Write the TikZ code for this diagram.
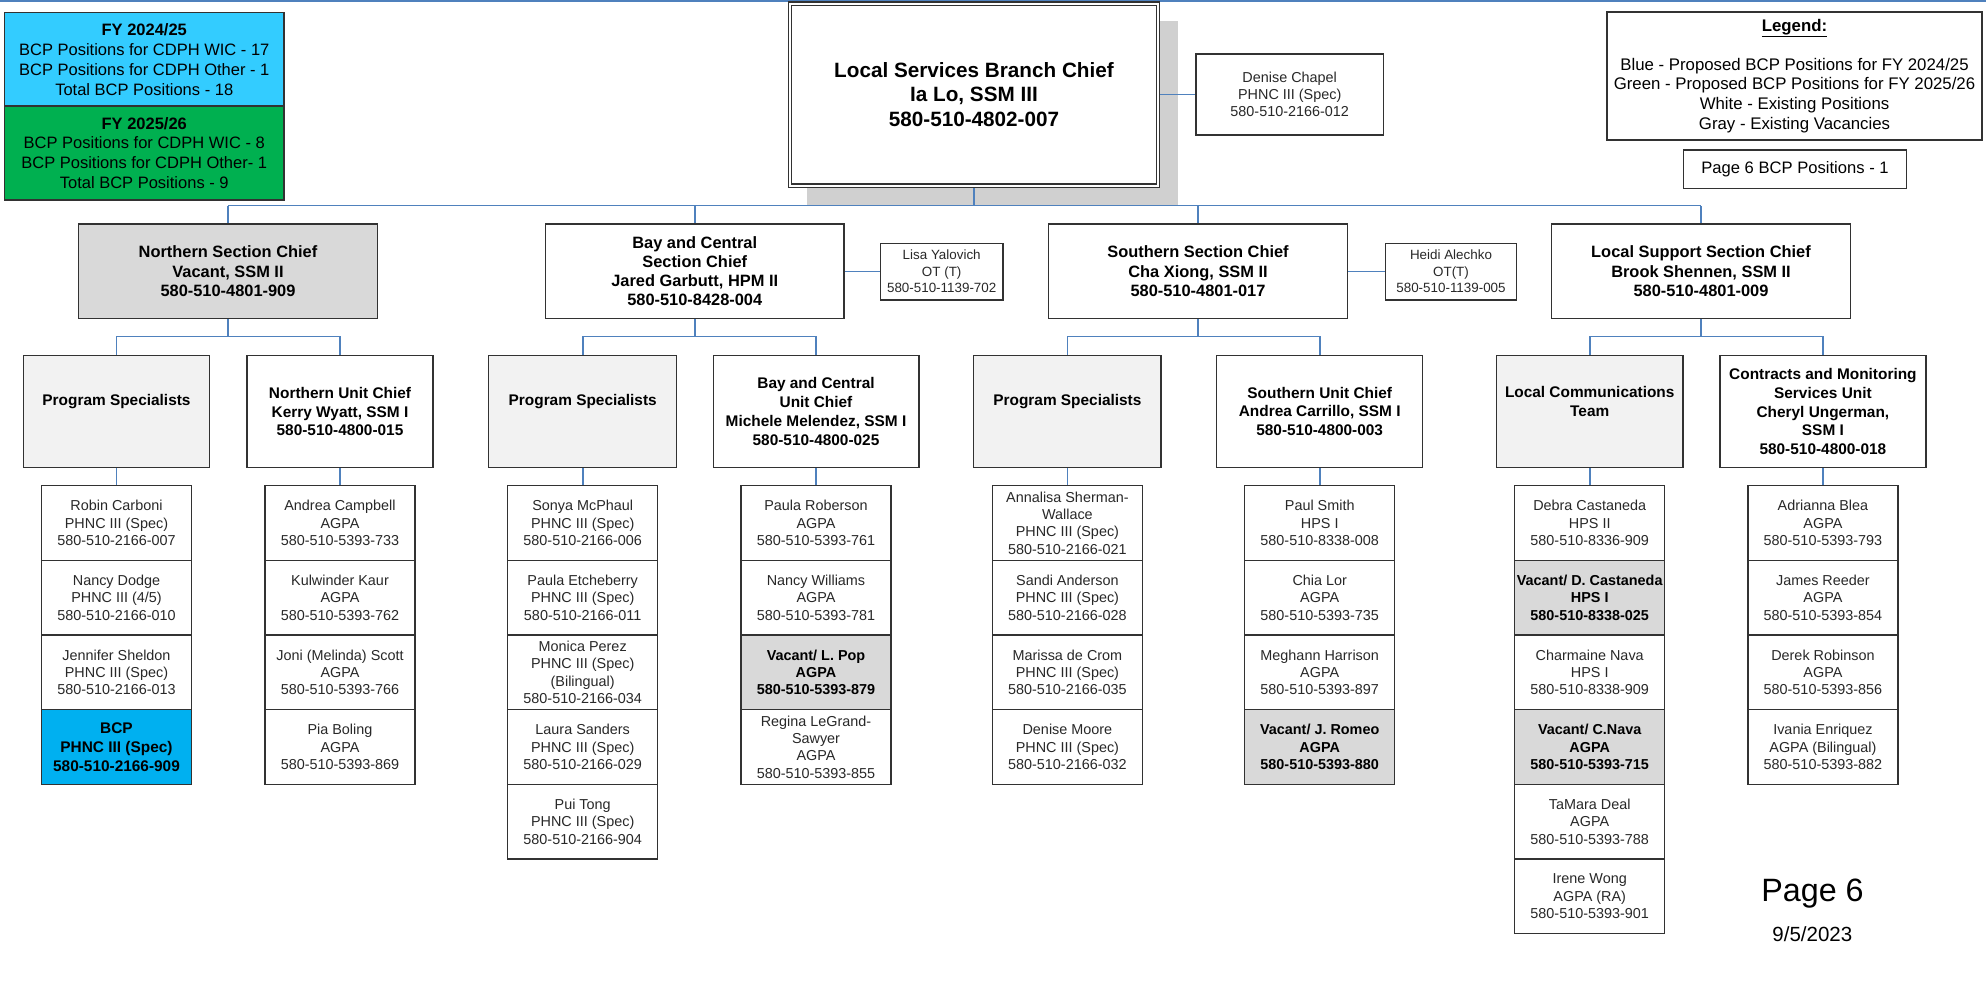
\documentclass[tikz,border=0pt]{standalone}
\usepackage{fontspec}
\setmainfont{Liberation Sans}
\definecolor{linkblue}{RGB}{79,129,189}
\definecolor{boxline}{RGB}{50,50,50}
\definecolor{vacgray}{RGB}{217,217,217}
\definecolor{teamgray}{RGB}{242,242,242}
\definecolor{bcpblue}{RGB}{0,176,240}
\definecolor{fyblue}{RGB}{51,204,255}
\definecolor{fygreen}{RGB}{0,176,80}
\definecolor{shadowgray}{RGB}{208,208,208}
\definecolor{txtgray}{RGB}{40,40,40}
\pgfdeclarelayer{shadowlayer}
\pgfdeclarelayer{linklayer}
\pgfsetlayers{shadowlayer,linklayer,main}
\newcommand\fs[2]{\fontsize{#1pt}{#2pt}\selectfont}
\begin{document}
\begin{tikzpicture}[x=1pt,y=-1pt,
  box/.style={draw=boxline,fill=white,line width=1.3pt,align=center,inner sep=0pt,text=black},
  link/.style={draw=linkblue,line width=1.6pt},
  sec/.style={box,line width=1.4pt,minimum width=298.5pt,minimum height=94.3pt,font=\fs{16.4}{19.2}\bfseries},
  small/.style={box,text=txtgray,minimum height=56.7pt,font=\fs{13.4}{16.5}},
  unit/.style={box,minimum height=112.4pt,font=\fs{15.4}{18.7}\bfseries},
  team/.style={unit,fill=teamgray},
  mem/.style={box,text=txtgray,minimum width=150pt,minimum height=74.67pt,font=\fs{14.4}{17.4}},
  memv/.style={mem,fill=vacgray,text=black,font=\fs{14.4}{17.4}\bfseries},
  membcp/.style={mem,fill=bcpblue,text=black,font=\fs{15.4}{18.7}\bfseries}]
\useasboundingbox (0,0) rectangle (1986,981);

% coordinates for free ends and bus levels
\coordinate (topL) at (0,1.2);
\coordinate (topR) at (1986,1.2);
\coordinate (busy) at (0,205.7);
\coordinate (bar) at (0,336.7);

% FY boxes
\node[box,fill=fyblue,minimum width=279.5pt,minimum height=93.3pt,font=\fs{16.5}{19.9}] (fy1) at (144.25,59.35)
  {\textbf{FY 2024/25}\\BCP Positions for CDPH WIC - 17\\BCP Positions for CDPH Other - 1\\Total BCP Positions - 18};
\node[box,fill=fygreen,minimum width=279.5pt,minimum height=94pt,font=\fs{16.5}{19.9}] (fy2) at (144.25,153)
  {\textbf{FY 2025/26}\\BCP Positions for CDPH WIC - 8\\BCP Positions for CDPH Other- 1\\Total BCP Positions - 9};

% Chief
\node[box,double,double distance=2pt,line width=1.2pt,minimum width=368pt,minimum height=182pt,font=\fs{20.7}{24.7}\bfseries] (chief) at (974,94.6)
  {Local Services Branch Chief\\Ia Lo, SSM III\\580-510-4802-007};
\begin{pgfonlayer}{shadowlayer}
\fill[shadowgray] ([shift={(18,18)}]chief.north west) rectangle ([shift={(19,19.5)}]chief.south east);
\end{pgfonlayer}
\node[box,text=txtgray,minimum width=187.3pt,minimum height=81pt,font=\fs{14.4}{17.3}] (denise) at (1289.7,94.5)
  {Denise Chapel\\PHNC III (Spec)\\580-510-2166-012};

% Legend
\node[box,line width=2.2pt,minimum width=374.4pt,minimum height=128.3pt,font=\fs{16.8}{19.6}] (legend) at (1794.5,75.85)
  {\underline{\textbf{Legend:}}\\[19.6pt]Blue - Proposed BCP Positions for FY 2024/25\\Green - Proposed BCP Positions for FY 2025/26\\White - Existing Positions\\Gray - Existing Vacancies};
\node[box,line width=1.5pt,minimum width=223.4pt,minimum height=38.3pt,font=\fs{16.6}{19}] (pagebox) at (1795,169.15)
  {Page 6 BCP Positions - 1};

% Section chiefs
\node[sec,fill=vacgray] (north) at (228,271.15) {Northern Section Chief\\Vacant, SSM II\\580-510-4801-909};
\node[sec] (bay) at (694.75,271.15) {Bay and Central\\Section Chief\\Jared Garbutt, HPM II\\580-510-8428-004};
\node[sec] (south) at (1198,271.15) {Southern Section Chief\\Cha Xiong, SSM II\\580-510-4801-017};
\node[sec] (locsup) at (1701,271.15) {Local Support Section Chief\\Brook Shennen, SSM II\\580-510-4801-009};
\node[small,minimum width=122.7pt] (lisa) at (941.7,271.65) {Lisa Yalovich\\OT (T)\\580-510-1139-702};
\node[small,minimum width=131.3pt] (heidi) at (1451,271.65) {Heidi Alechko\\OT(T)\\580-510-1139-005};

% Units
\node[team,minimum width=186.6pt,text depth=23pt] (nps) at (116.5,411.5) {Program Specialists};
\node[unit,minimum width=186pt] (nuc) at (340,411.5) {Northern Unit Chief\\Kerry Wyatt, SSM I\\580-510-4800-015};
\node[team,minimum width=188pt,text depth=23pt] (bps) at (582.7,411.5) {Program Specialists};
\node[unit,minimum width=205.7pt] (buc) at (816,411.5) {Bay and Central\\Unit Chief\\Michele Melendez, SSM I\\580-510-4800-025};
\node[team,minimum width=187.3pt,text depth=23pt] (sps) at (1067.4,411.5) {Program Specialists};
\node[unit,minimum width=206pt] (suc) at (1319.7,411.5) {Southern Unit Chief\\Andrea Carrillo, SSM I\\580-510-4800-003};
\node[team,minimum width=186.5pt,text depth=19.5pt] (lct) at (1589.7,411.5) {Local Communications\\Team};
\node[unit,minimum width=205.9pt] (cms) at (1822.9,411.5) {Contracts and Monitoring\\Services Unit\\Cheryl Ungerman,\\SSM I\\580-510-4800-018};

% Northern PS members
\node[mem] (a1) at (116.5,523.0) {Robin Carboni\\PHNC III (Spec)\\580-510-2166-007};
\node[mem] (a2) at (116.5,597.7) {Nancy Dodge\\PHNC III (4/5)\\580-510-2166-010};
\node[mem] (a3) at (116.5,672.3) {Jennifer Sheldon\\PHNC III (Spec)\\580-510-2166-013};
\node[membcp] (a4) at (116.5,747.0) {BCP\\PHNC III (Spec)\\580-510-2166-909};
% Northern unit members
\node[mem] (b1) at (340,523.0) {Andrea Campbell\\AGPA\\580-510-5393-733};
\node[mem] (b2) at (340,597.7) {Kulwinder Kaur\\AGPA\\580-510-5393-762};
\node[mem] (b3) at (340,672.3) {Joni (Melinda) Scott\\AGPA\\580-510-5393-766};
\node[mem] (b4) at (340,747.0) {Pia Boling\\AGPA\\580-510-5393-869};
% Bay PS members
\node[mem] (c1) at (582.7,523.0) {Sonya McPhaul\\PHNC III (Spec)\\580-510-2166-006};
\node[mem] (c2) at (582.7,597.7) {Paula Etcheberry\\PHNC III (Spec)\\580-510-2166-011};
\node[mem] (c3) at (582.7,672.3) {Monica Perez\\PHNC III (Spec)\\(Bilingual)\\580-510-2166-034};
\node[mem] (c4) at (582.7,747.0) {Laura Sanders\\PHNC III (Spec)\\580-510-2166-029};
\node[mem] (c5) at (582.7,821.7) {Pui Tong\\PHNC III (Spec)\\580-510-2166-904};
% Bay unit members
\node[mem] (d1) at (816,523.0) {Paula Roberson\\AGPA\\580-510-5393-761};
\node[mem] (d2) at (816,597.7) {Nancy Williams\\AGPA\\580-510-5393-781};
\node[memv] (d3) at (816,672.3) {Vacant/ L. Pop\\AGPA\\580-510-5393-879};
\node[mem] (d4) at (816,747.0) {Regina LeGrand-\\Sawyer\\AGPA\\580-510-5393-855};
% Southern PS members
\node[mem] (e1) at (1067.4,523.0) {Annalisa Sherman-\\Wallace\\PHNC III (Spec)\\580-510-2166-021};
\node[mem] (e2) at (1067.4,597.7) {Sandi Anderson\\PHNC III (Spec)\\580-510-2166-028};
\node[mem] (e3) at (1067.4,672.3) {Marissa de Crom\\PHNC III (Spec)\\580-510-2166-035};
\node[mem] (e4) at (1067.4,747.0) {Denise Moore\\PHNC III (Spec)\\580-510-2166-032};
% Southern unit members
\node[mem] (f1) at (1319.7,523.0) {Paul Smith\\HPS I\\580-510-8338-008};
\node[mem] (f2) at (1319.7,597.7) {Chia Lor\\AGPA\\580-510-5393-735};
\node[mem] (f3) at (1319.7,672.3) {Meghann Harrison\\AGPA\\580-510-5393-897};
\node[memv] (f4) at (1319.7,747.0) {Vacant/ J. Romeo\\AGPA\\580-510-5393-880};
% Local comms members
\node[mem] (g1) at (1589.7,523.0) {Debra Castaneda\\HPS II\\580-510-8336-909};
\node[memv] (g2) at (1589.7,597.7) {Vacant/ D. Castaneda\\HPS I\\580-510-8338-025};
\node[mem] (g3) at (1589.7,672.3) {Charmaine Nava\\HPS I\\580-510-8338-909};
\node[memv] (g4) at (1589.7,747.0) {Vacant/ C.Nava\\AGPA\\580-510-5393-715};
\node[mem] (g5) at (1589.7,821.7) {TaMara Deal\\AGPA\\580-510-5393-788};
\node[mem] (g6) at (1589.7,896.3) {Irene Wong\\AGPA (RA)\\580-510-5393-901};
% Contracts members
\node[mem] (h1) at (1822.9,523.0) {Adrianna Blea\\AGPA\\580-510-5393-793};
\node[mem] (h2) at (1822.9,597.7) {James Reeder\\AGPA\\580-510-5393-854};
\node[mem] (h3) at (1822.9,672.3) {Derek Robinson\\AGPA\\580-510-5393-856};
\node[mem] (h4) at (1822.9,747.0) {Ivania Enriquez\\AGPA (Bilingual)\\580-510-5393-882};

% Page label
\node[anchor=base,inner sep=0pt,font=\fs{32.3}{36}] (pg) at (1812.5,901.7) {Page 6};
\node[anchor=base,inner sep=0pt,font=\fs{20.5}{24}] (date) at (1812.3,941.7) {9/5/2023};

% Connectors
\begin{pgfonlayer}{linklayer}
\draw[link] (topL) -- (topR);
\draw[link] (chief.south) -- (chief.south |- busy);
\draw[link] (north.north |- busy) -- (locsup.north |- busy);
\foreach \s in {north,bay,south,locsup} \draw[link] (\s.north) -- (\s.north |- busy);
\draw[link] (denise.west -| chief.east) -- (denise.west);
\draw[link] (lisa.west -| bay.east) -- (lisa.west);
\draw[link] (heidi.west -| south.east) -- (heidi.west);
\draw[link] (north.south) -- (north.south |- bar);
\draw[link] (nps.north) -- (nps.north |- bar) -- (nuc.north |- bar) -- (nuc.north);
\draw[link] (bay.south) -- (bay.south |- bar);
\draw[link] (bps.north) -- (bps.north |- bar) -- (buc.north |- bar) -- (buc.north);
\draw[link] (south.south) -- (south.south |- bar);
\draw[link] (sps.north) -- (sps.north |- bar) -- (suc.north |- bar) -- (suc.north);
\draw[link] (locsup.south) -- (locsup.south |- bar);
\draw[link] (lct.north) -- (lct.north |- bar) -- (cms.north |- bar) -- (cms.north);
\draw[link] (nps.south) -- (a1.north);
\draw[link] (nuc.south) -- (b1.north);
\draw[link] (bps.south) -- (c1.north);
\draw[link] (buc.south) -- (d1.north);
\draw[link] (sps.south) -- (e1.north);
\draw[link] (suc.south) -- (f1.north);
\draw[link] (lct.south) -- (g1.north);
\draw[link] (cms.south) -- (h1.north);
\end{pgfonlayer}
\end{tikzpicture}
\end{document}
